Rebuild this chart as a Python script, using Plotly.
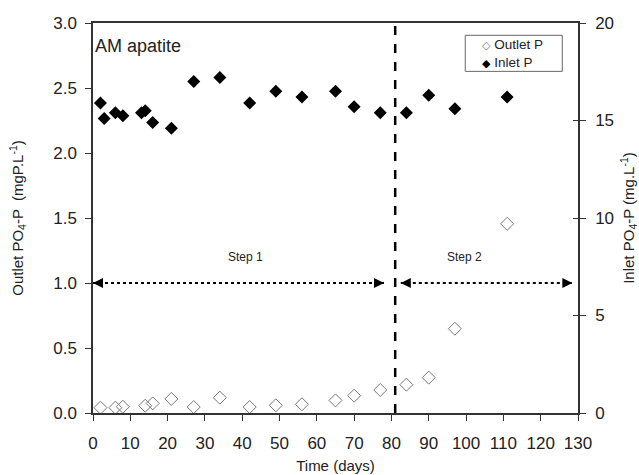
import plotly.graph_objects as go

# Data
days_inlet = [2, 3, 6, 8, 13, 14, 16, 21, 27, 34, 42, 49, 56, 65, 70, 77, 84, 90, 97, 111]
inlet_p = [15.9, 15.1, 15.4, 15.25, 15.4, 15.5, 14.9, 14.6, 17.0, 17.2, 15.9, 16.5, 16.2,
           16.5, 15.7, 15.4, 15.4, 16.3, 15.6, 16.2]
days_outlet = [2, 6, 8, 14, 16, 21, 27, 34, 42, 49, 56, 65, 70, 77, 84, 90, 97, 111]
outlet_p = [0.041, 0.041, 0.048, 0.056, 0.074, 0.108, 0.046, 0.118, 0.046, 0.059, 0.067,
            0.097, 0.133, 0.177, 0.218, 0.272, 0.648, 1.455]

step_change_day = 81
step1_range = [0, 78]
step2_range = [82.5, 128.5]
arrow_level = 1.0
step_labels = ["Step 1", "Step 2"]
step_label_x = [41, 99.5]
step_label_y = 1.2
legend_labels = ["Outlet P", "Inlet P"]

FONT = "Liberation Sans, Arial, sans-serif"
OUT_COLOR = "#777777"

fig = go.Figure()
fig.add_trace(go.Scatter(x=days_outlet, y=outlet_p, mode="markers", name=legend_labels[0],
                         marker=dict(symbol="diamond-open", size=10, color=OUT_COLOR,
                                     line=dict(width=1, color=OUT_COLOR)),
                         yaxis="y", showlegend=False))
fig.add_trace(go.Scatter(x=days_inlet, y=inlet_p, mode="markers", name=legend_labels[1],
                         marker=dict(symbol="diamond", size=10, color="black"),
                         yaxis="y2", showlegend=False))
fig.add_trace(go.Scatter(x=[None], y=[None], yaxis="y3", showlegend=False,
                         hoverinfo="skip"))

# Vertical dashed line
fig.add_shape(type="line", x0=step_change_day, x1=step_change_day, y0=0, y1=3,
              xref="x", yref="y", line=dict(color="black", width=2.5, dash="dash"))

# Dotted double arrows
for rng in (step1_range, step2_range):
    fig.add_shape(type="line", x0=rng[0], x1=rng[1], y0=arrow_level, y1=arrow_level,
                  xref="x", yref="y", line=dict(color="black", width=2, dash="dot"))
    for tip, tail in ((rng[1], rng[1] - 2), (rng[0], rng[0] + 2)):
        fig.add_annotation(x=tip, y=arrow_level, ax=tail, ay=arrow_level,
                           xref="x", yref="y", axref="x", ayref="y", text="",
                           showarrow=True, arrowhead=2, arrowsize=1.0, arrowwidth=2,
                           arrowcolor="black")

for lbl, lx in zip(step_labels, step_label_x):
    fig.add_annotation(x=lx, y=step_label_y, xref="x", yref="y", text=lbl,
                       showarrow=False, font=dict(family=FONT, size=12, color="#222"))

fig.add_annotation(x=0.0, y=2.82, xref="paper", yref="y", text="AM apatite",
                   showarrow=False, xanchor="left", yanchor="middle",
                   font=dict(family=FONT, size=18, color="#222"))

# Custom legend box (as in the reference)
fig.add_shape(type="rect", xref="paper", yref="paper", x0=0.7675, x1=0.9676,
              y0=0.876, y1=0.9685, line=dict(color="#666", width=1), fillcolor="white")
sym_style = "font-family:DejaVu Sans;font-size:11px"
legend_text = (f'<span style="{sym_style};color:{OUT_COLOR}">◇</span> {legend_labels[0]}<br>'
               f'<span style="{sym_style};color:black">◆</span> {legend_labels[1]}')
fig.add_annotation(x=0.797, y=0.9222, xref="paper", yref="paper", text=legend_text,
                   showarrow=False, xanchor="left", yanchor="middle", align="left",
                   font=dict(family=FONT, size=13.5, color="#222"))

axis_common = dict(showline=True, linecolor="#333", linewidth=1.5, ticks="outside",
                   ticklen=6, tickcolor="#333", showgrid=False, zeroline=False,
                   automargin=False,
                   tickfont=dict(family=FONT, size=17, color="#222"))

fig.update_layout(
    width=639, height=475,
    margin=dict(l=93, r=61, t=23, b=62),
    paper_bgcolor="white", plot_bgcolor="white",
    font=dict(family=FONT, color="#222"),
    xaxis=dict(range=[0, 130], tickvals=list(range(0, 131, 10)), mirror=True,
               ticklabelstandoff=8,
               title=dict(text="Time (days)", font=dict(family=FONT, size=15), standoff=8),
               **axis_common),
    yaxis=dict(range=[0, 3], tickvals=[0, 0.5, 1.0, 1.5, 2.0, 2.5, 3.0],
               ticktext=["0.0", "0.5", "1.0", "1.5", "2.0", "2.5", "3.0"],
               ticklabelstandoff=5,
               title=dict(text="Outlet PO<sub>4</sub>-P  (mgP.L<sup>-1</sup>)",
                          font=dict(family=FONT, size=15), standoff=26),
               **axis_common),
    yaxis2=dict(range=[0, 20], tickvals=[0, 5, 10, 15, 20], overlaying="y", side="right",
                ticklabelstandoff=6,
                title=dict(text="Inlet PO<sub>4</sub>-P (mg.L<sup>-1</sup>)",
                           font=dict(family=FONT, size=15), standoff=12),
                **axis_common),
    yaxis3=dict(range=[0, 20], tickvals=[0, 5, 10, 15, 20], overlaying="y", side="right",
                showline=False, ticks="inside", ticklen=5, tickcolor="#333",
                automargin=False,
                showticklabels=False, showgrid=False, zeroline=False),
    showlegend=False,
)

fig.write_html("out.html", config={"displayModeBar": False},
               post_script="document.body.style.margin='0';")
